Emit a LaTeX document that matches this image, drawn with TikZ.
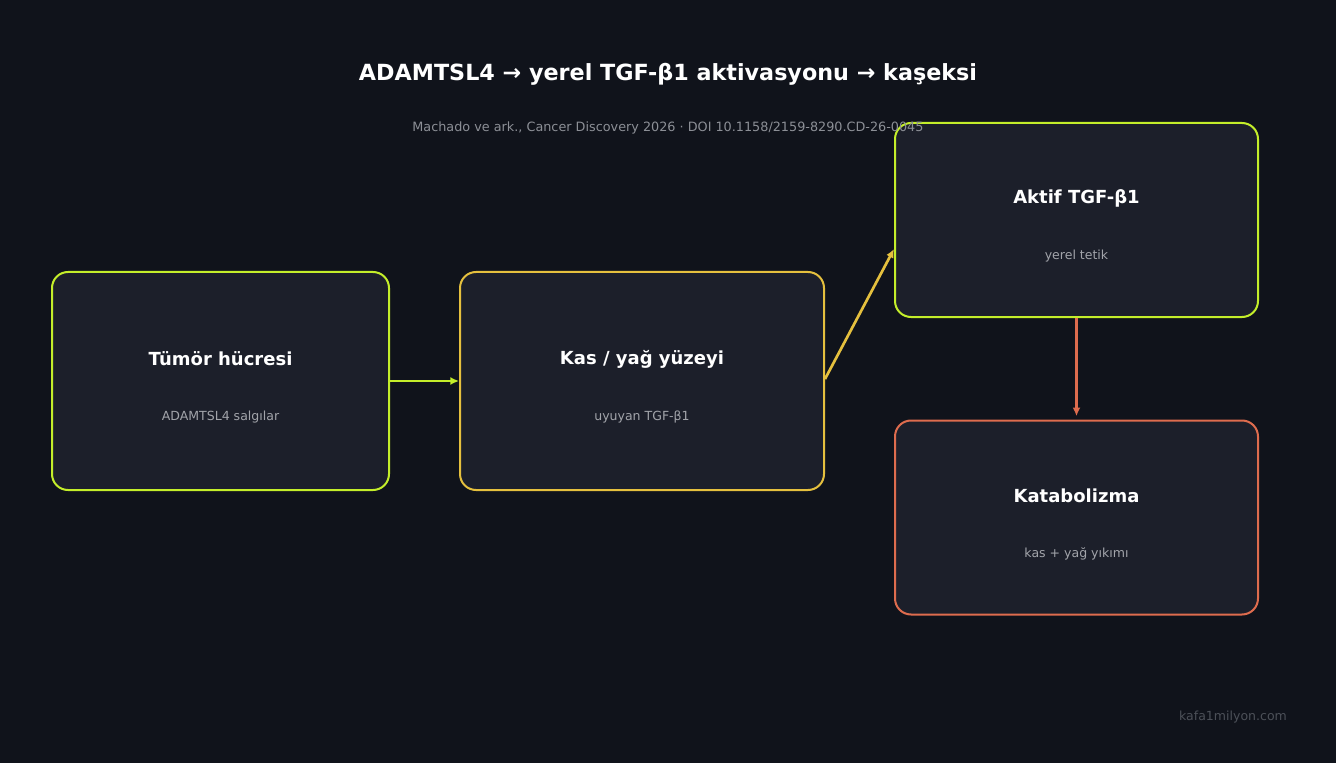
\documentclass[tikz,border=0pt]{standalone}
\usepackage{fontspec}
\setmainfont{DejaVu Sans}
\usepackage{tikz}
\usetikzlibrary{arrows.meta}

\definecolor{bgdark}{HTML}{10131B}
\definecolor{boxfill}{HTML}{1C1F2A}
\definecolor{limeline}{HTML}{C4EE2A}
\definecolor{goldline}{HTML}{E5C03E}
\definecolor{rustline}{HTML}{DE6C4E}
\definecolor{subgray}{HTML}{A2A4AA}
\definecolor{citegray}{HTML}{8C8F96}
\definecolor{markgray}{HTML}{4C5058}

\begin{document}
\begin{tikzpicture} [x = 0.75pt, y = -0.75pt,
    stage/.style = {draw, line width = 1.5pt, fill = boxfill, rounded corners = 12pt,
        inner sep = 0},
    head/.style = {text = white, font = \bfseries\fontsize{13.5}{16}\selectfont},
    note/.style = {text = subgray, font = \fontsize{9.4}{11}\selectfont},
    flow/.style = {-{Latex[length = 6.5pt, width = 6pt]}, line width = 2.2pt}]
    \fill[bgdark] (0, 0) rectangle (1336, 763);
    \useasboundingbox (0, 0) rectangle (1336, 763);

    \node[stage, draw = limeline, minimum width = 252.75pt, minimum height = 163.5pt]
        (tumor) at (220.5, 381) {};
    \node[stage, draw = goldline, minimum width = 273pt, minimum height = 163.5pt]
        (surface) at (642, 381) {};
    \node[stage, draw = limeline, minimum width = 272.25pt, minimum height = 145.5pt]
        (active) at (1076.5, 220) {};
    \node[stage, draw = rustline, minimum width = 272.25pt, minimum height = 145.5pt]
        (catab) at (1076.5, 517.5) {};

    \node[text = white, font = \bfseries\fontsize{16.7}{20}\selectfont] (title)
        at (668, 74) {ADAMTSL4 → yerel TGF-β1 aktivasyonu → kaşeksi};
    \node[text = citegray, font = \fontsize{9.6}{11}\selectfont] (cite) at (668, 128)
        {Machado ve ark., Cancer Discovery 2026 · DOI 10.1158/2159-8290.CD-26-0045};

    \node[head] (tumor-h) at (220.5, 359) {Tümör hücresi};
    \node[note] (tumor-n) at (220.5, 417.5) {ADAMTSL4 salgılar};
    \node[head] (surface-h) at (642, 359) {Kas / yağ yüzeyi};
    \node[note] (surface-n) at (642, 417.5) {uyuyan TGF-β1};
    \node[head] (active-h) at (1076.5, 198) {Aktif TGF-β1};
    \node[note] (active-n) at (1076.5, 256.5) {yerel tetik};
    \node[head] (catab-h) at (1076.5, 495.5) {Katabolizma};
    \node[note] (catab-n) at (1076.5, 554) {kas + yağ yıkımı};

    \draw[flow, limeline] (tumor.east) -- (surface.west);
    \draw[flow, goldline, line width = 2pt] ([yshift = 1.5pt]surface.east)
        -- ([yshift = -21.75pt]active.west);
    \draw[flow, rustline, line width = 2pt] (active.south) -- ([yshift = 2.5pt]catab.north);

    \node[text = markgray, font = \fontsize{9.4}{11}\selectfont] (mark)
        at (1233, 717) {kafa1milyon.com};
\end{tikzpicture}
\end{document}
